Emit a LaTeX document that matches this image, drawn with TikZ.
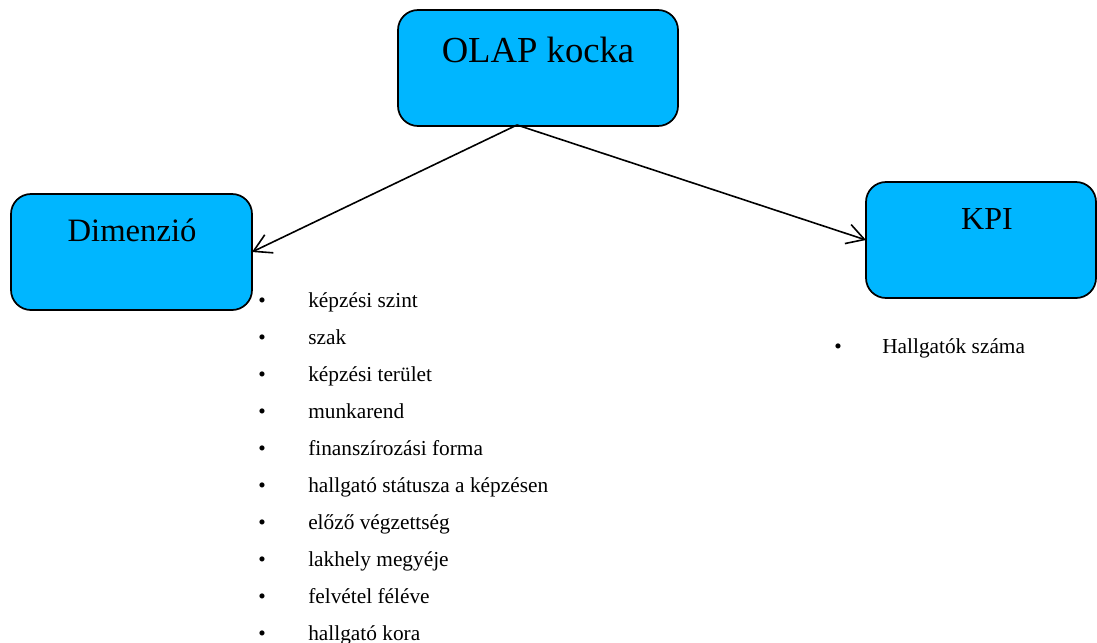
\documentclass[tikz,border=0pt]{standalone}
\usepackage{fontspec}
\setmainfont{Liberation Serif}
\usetikzlibrary{arrows.meta, positioning}

\definecolor{boxblue}{RGB}{0,182,255}

\begin{document}
\begin{tikzpicture}[
  x=0.75pt, y=-0.75pt,
  box/.style={rectangle, draw, line width=1.3pt, fill=boxblue, rounded corners=15pt, outer sep=0pt, minimum height=87pt},
  title/.style={anchor=base, inner sep=0pt},
  item/.style={anchor=base west, inner sep=0pt, font=\fontsize{16}{19}\selectfont},
  dot/.style={anchor=base, inner sep=0pt, font=\fontsize{16}{19}\selectfont},
  arrow/.style={-{Straight Barb[length=13pt, width=15pt]}, line width=1.2pt}
]
\useasboundingbox (0,0) rectangle (1097,643);

\node[box, minimum width=210pt] (olap) at (538,68) {};
\node[box, minimum width=180.75pt] (dim) at (131.5,252) {};
\node[box, minimum width=172.5pt] (kpi) at (981,240) {};

\node[title, font=\fontsize{27.5}{32}\selectfont] (olaptxt) at (538,62) {OLAP kocka};
\node[title, font=\fontsize{24.5}{29}\selectfont] (dimtxt) at (132,241) {Dimenzió};
\node[title, font=\fontsize{24}{28}\selectfont] (kpitxt) at (987,229) {KPI};

% dimensions
\node[dot] (b1) at (262,307) {\textbullet};  \node[item] (d1) at (308,307) {képzési szint};
\node[dot] (b2) at (262,344) {\textbullet};  \node[item] (d2) at (308,344) {szak};
\node[dot] (b3) at (262,381) {\textbullet};  \node[item] (d3) at (308,381) {képzési terület};
\node[dot] (b4) at (262,418) {\textbullet};  \node[item] (d4) at (308,418) {munkarend};
\node[dot] (b5) at (262,455) {\textbullet};  \node[item] (d5) at (308,455) {finanszírozási forma};
\node[dot] (b6) at (262,492) {\textbullet};  \node[item] (d6) at (308,492) {hallgató státusza a képzésen};
\node[dot] (b7) at (262,529) {\textbullet};  \node[item] (d7) at (308,529) {előző végzettség};
\node[dot] (b8) at (262,566) {\textbullet};  \node[item] (d8) at (308,566) {lakhely megyéje};
\node[dot] (b9) at (262,603) {\textbullet};  \node[item] (d9) at (308,603) {felvétel féléve};
\node[dot] (b10) at (262,640) {\textbullet}; \node[item] (d10) at (308,640) {hallgató kora};

% kpi
\node[dot] (k0) at (838,353) {\textbullet};
\node[item] (k1) at (882,353) {Hallgatók száma};

\coordinate (split) at (517,125);
\draw[arrow] (split) -- (dim.east);
\draw[arrow] (split) -- (kpi.west);
\end{tikzpicture}
\end{document}
